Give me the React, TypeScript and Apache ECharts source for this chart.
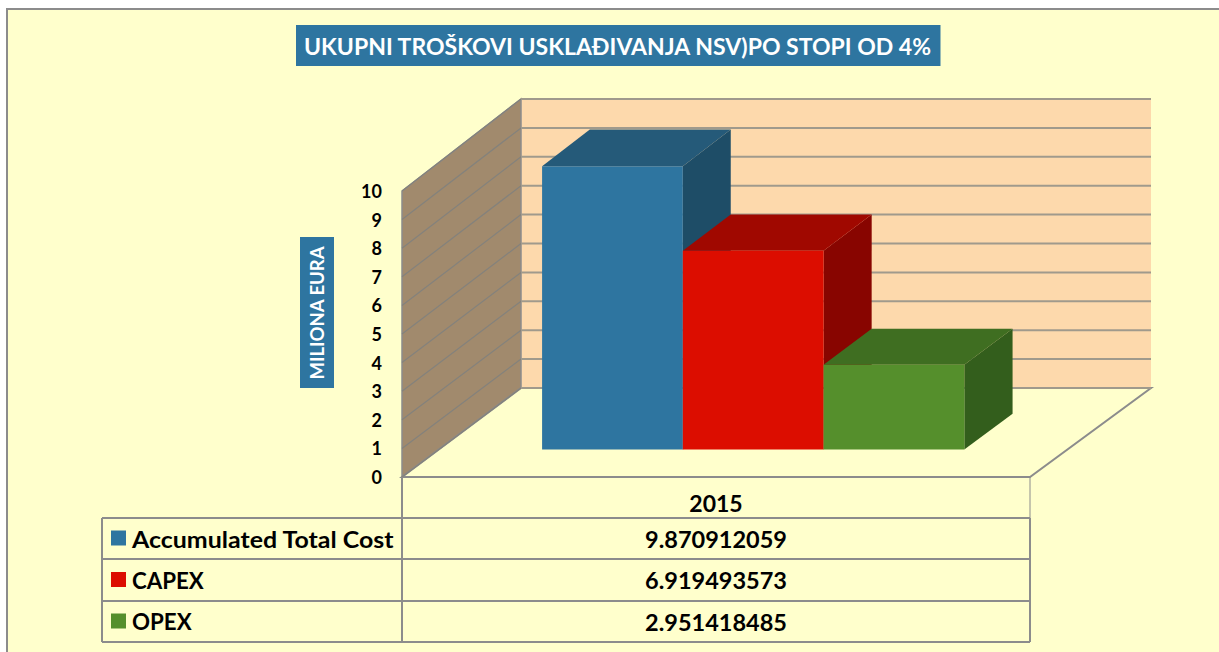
import React, { useEffect, useRef } from "react";
import * as echarts from "echarts";

const titleText = "UKUPNI TROŠKOVI USKLAĐIVANJA NSV)PO STOPI OD 4%";
const yAxisTitle = "MILIONA EURA";
const categories = ["2015"];
const seriesNames = ["Accumulated Total Cost", "CAPEX", "OPEX"];
const accumulatedValues = [9.870912059];
const capexValues = [6.919493573];
const opexValues = [2.951418485];
const allValues = [accumulatedValues, capexValues, opexValues];
const yTicks = [0, 1, 2, 3, 4, 5, 6, 7, 8, 9, 10];
const frontColors = ["#2E75A0", "#DC0D00", "#558F2C"];
const topColors = ["#255A79", "#A00800", "#3F6E21"];
const sideColors = ["#1E4D67", "#880500", "#335E1C"];
const nameStretch = [1.085, 1, 1];
const nameSizes = [23, 22.3, 22.3];

const FONT = "Lato, Carlito, 'Noto Sans', sans-serif";
const BOX = "#2E75A0";
const PANEL = "#FFFFCC";
const LINE = "#8C8C8C";
const W = 1219;
const H = 652;
const GRID = { left: 402, right: 1030, top: 191, bottom: 477 };
const TABLE = { left: 102, mid: 402, right: 1030, rows: [518, 559, 601, 642] };
const depthX = (x: number) => 119 + (2 * (x - GRID.left)) / (GRID.right - GRID.left);
const depthY = (v: number) => 89 + 0.3 * v;
const BAR_FRONT = 0.31;
const BAR_BACK = 0.71;
const BAR_WIDTH_RATIO = 140.6 / 628;

function project(api: any, x: number, v: number, d: number) {
  const p = api.coord([0, v]);
  return [x + d * depthX(x), p[1] - d * depthY(v)];
}

function renderWalls(_: any, api: any) {
  const c = api.coord([0, 0]);
  const band = api.size([1, 0])[0];
  const xl = c[0] - band / 2;
  const xr = c[0] + band / 2;
  const top = yTicks[yTicks.length - 1];
  const poly = (pts: number[][], fill: string, stroke?: string, lineWidth = 1.5) => ({
    type: "polygon",
    shape: { points: pts },
    style: { fill, stroke: stroke || "none", lineWidth },
  });
  const children: any[] = [
    poly([project(api, xl, 0, 1), project(api, xr, 0, 1), project(api, xr, top, 1), project(api, xl, top, 1)], "#FDD9AC"),
    poly([project(api, xl, 0, 0), project(api, xl, 0, 1), project(api, xl, top, 1), project(api, xl, top, 0)], "#A18A6D", LINE),
    poly([project(api, xl, 0, 0), project(api, xr, 0, 0), project(api, xr, 0, 1), project(api, xl, 0, 1)], PANEL, LINE, 2),
  ];
  yTicks.forEach((v) => {
    const a = project(api, xl, v, 0);
    const b = project(api, xl, v, 1);
    const e = project(api, xr, v, 1);
    children.push({
      type: "line",
      shape: { x1: a[0], y1: a[1], x2: b[0], y2: b[1] },
      style: { stroke: "#84827C", lineWidth: 1.2 },
    });
    children.push({
      type: "line",
      shape: { x1: b[0], y1: b[1], x2: e[0], y2: e[1] },
      style: { stroke: "#A09A8C", lineWidth: 2 },
    });
  });
  return { type: "group", children };
}

function makeBar(index: number) {
  return (_: any, api: any) => {
    const v = api.value(1);
    const c = api.coord([0, 0]);
    const band = api.size([1, 0])[0];
    const w = band * BAR_WIDTH_RATIO;
    const x0 = c[0] + (index - 1.5) * w;
    const x1 = x0 + w;
    const fb = project(api, x0, 0, BAR_FRONT);
    const fr = project(api, x1, 0, BAR_FRONT);
    const tl = project(api, x0, v, BAR_FRONT);
    const tr = project(api, x1, v, BAR_FRONT);
    const bl = project(api, x0, v, BAR_BACK);
    const br = project(api, x1, v, BAR_BACK);
    const bb = project(api, x1, 0, BAR_BACK);
    return {
      type: "group",
      children: [
        { type: "polygon", shape: { points: [tr, br, bb, fr] }, style: { fill: sideColors[index] } },
        { type: "polygon", shape: { points: [tl, bl, br, tr] }, style: { fill: topColors[index] } },
        { type: "polygon", shape: { points: [fb, fr, tr, tl] }, style: { fill: frontColors[index] } },
      ],
    };
  };
}

function hLine(x1: number, x2: number, y: number, w = 2) {
  return { type: "line", shape: { x1, y1: y, x2, y2: y }, style: { stroke: LINE, lineWidth: w } };
}
function vLine(x: number, y1: number, y2: number, w = 2) {
  return { type: "line", shape: { x1: x, y1, x2: x, y2 }, style: { stroke: LINE, lineWidth: w } };
}

function buildTable() {
  const out: any[] = [];
  TABLE.rows.forEach((y) => out.push(hLine(TABLE.left, TABLE.right, y)));
  out.push(vLine(TABLE.left, TABLE.rows[0], TABLE.rows[3]));
  out.push(vLine(TABLE.mid, GRID.bottom, TABLE.rows[3]));
  out.push(vLine(TABLE.right, GRID.bottom, TABLE.rows[0], 1));
  out.push(vLine(TABLE.right, TABLE.rows[0], TABLE.rows[3]));
  const center = (TABLE.mid + TABLE.right) / 2;
  seriesNames.forEach((name, i) => {
    const y = (TABLE.rows[i] + TABLE.rows[i + 1]) / 2;
    out.push({
      type: "rect",
      shape: { x: 111, y: y - 8, width: 15, height: 15 },
      style: { fill: frontColors[i] },
    });
    out.push({
      type: "text",
      x: 132,
      y,
      scaleX: nameStretch[i],
      style: { x: 0, y: 0, text: name, fill: "#000", fontFamily: FONT, fontWeight: "bold", fontSize: nameSizes[i], textAlign: "left", textVerticalAlign: "middle" },
    });
    out.push({
      type: "text",
      style: { x: center, y, text: String(allValues[i][0]), fill: "#000", fontFamily: FONT, fontWeight: "bold", fontSize: 23.5, textAlign: "center", textVerticalAlign: "middle" },
    });
  });
  return out;
}

export default function App() {
  const ref = useRef<HTMLDivElement>(null);
  useEffect(() => {
    const chart = echarts.init(ref.current!, undefined, { renderer: "svg" });
    chart.setOption({
      animation: false,
      backgroundColor: "#FFFFFF",
      title: {
        text: titleText,
        left: 296,
        top: 25,
        padding: [8, 8, 8, 8],
        backgroundColor: BOX,
        textStyle: { color: "#FFFFFF", fontFamily: FONT, fontWeight: "bold", fontSize: 23, lineHeight: 25 },
      },
      grid: {
        left: GRID.left,
        right: W - GRID.right,
        top: GRID.top,
        bottom: H - GRID.bottom,
      },
      xAxis: {
        type: "category",
        data: categories,
        axisLine: { show: false },
        axisTick: { show: false },
        splitLine: { show: false },
        axisLabel: { color: "#000", fontFamily: FONT, fontWeight: "bold", fontSize: 23, margin: 14 },
      },
      yAxis: {
        type: "value",
        min: 0,
        max: 10,
        interval: 1,
        axisLine: { show: false },
        axisTick: { show: false },
        splitLine: { show: false },
        axisLabel: { color: "#000", fontFamily: FONT, fontWeight: "bold", fontSize: 18, margin: 20 },
      },
      series: [
        { type: "custom", name: "walls", silent: true, clip: false, z: 1, data: [[0, 0]], encode: { x: 0, y: 1 }, renderItem: renderWalls },
        ...seriesNames.map((name, i) => ({
          type: "custom",
          name,
          clip: false,
          z: 2 + i,
          data: allValues[i].map((v, k) => [k, v]),
          encode: { x: 0, y: 1 },
          renderItem: makeBar(i),
        })),
      ],
      graphic: {
        elements: [
          {
            type: "rect",
            z: -10,
            shape: { x: 7, y: 9, width: W + 10, height: H + 10 },
            style: { fill: PANEL, stroke: LINE, lineWidth: 2 },
          },
          {
            type: "rect",
            z: 5,
            shape: { x: 300, y: 237, width: 34, height: 151 },
            style: { fill: BOX },
          },
          {
            type: "text",
            z: 6,
            x: 317,
            y: 313,
            rotation: Math.PI / 2,
            style: { x: 0, y: 0, text: yAxisTitle, fill: "#FFFFFF", fontFamily: FONT, fontWeight: "bold", fontSize: 18.5, textAlign: "center", textVerticalAlign: "middle" },
          },
          ...buildTable().map((e) => ({ ...e, z: 5 })),
        ],
      },
    });
    return () => chart.dispose();
  }, []);
  return <div ref={ref} style={{ position: "fixed", left: 0, top: 0, width: W, height: H }} />;
}
